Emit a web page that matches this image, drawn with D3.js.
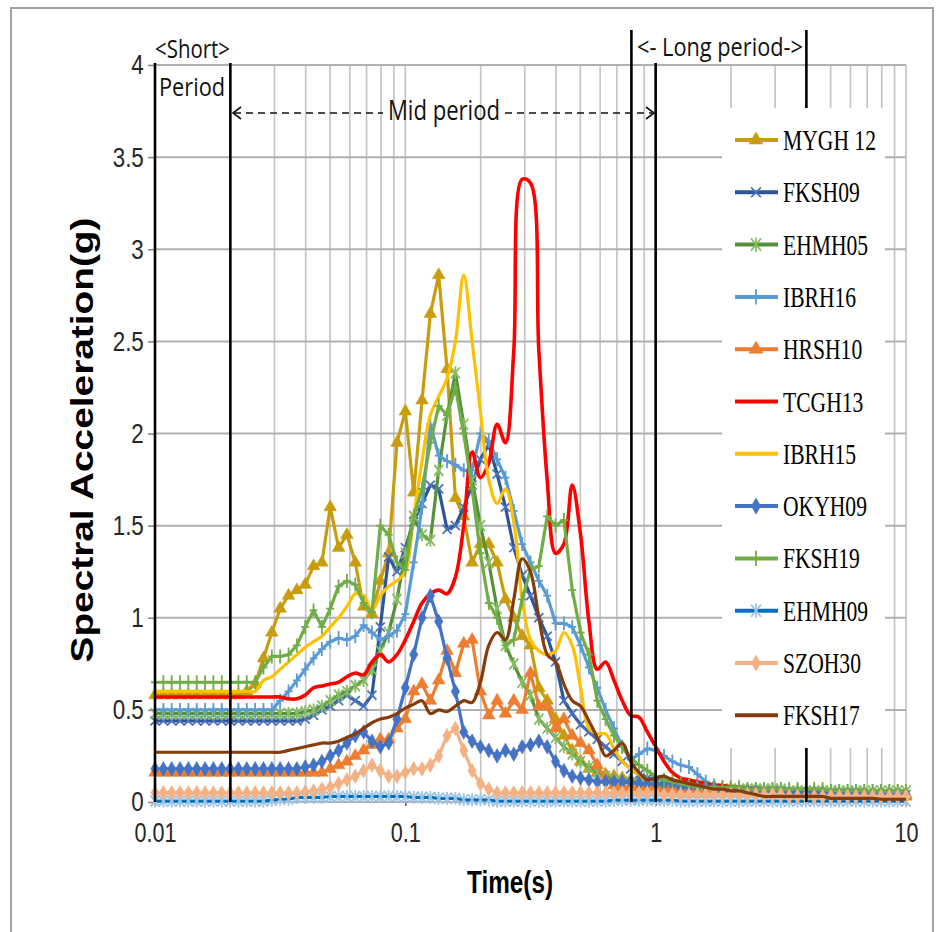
<!DOCTYPE html>
<html><head><meta charset="utf-8">
<script src="https://cdn.jsdelivr.net/npm/d3@7"></script>
<style>body{margin:0;background:#fff}svg{display:block}</style>
</head><body>
<svg id="chart" width="940" height="932"></svg>
<script>
// ---------- DATA ----------
const periods = [
0.01,0.0108,0.01166,0.01259,0.01359,0.01468,0.01585,0.01711,0.01848,0.01995,
0.02154,0.02326,0.02512,0.02712,0.02929,0.03162,0.03415,0.03687,0.03981,0.04299,
0.04642,0.05012,0.05412,0.05843,0.0631,0.06813,0.07356,0.07943,0.08577,0.09261,
0.1,0.108,0.1166,0.1259,0.1359,0.1468,0.1585,0.1711,0.1848,0.1995,
0.2154,0.2326,0.2512,0.2712,0.2929,0.3162,0.3415,0.3687,0.3981,0.4299,
0.4642,0.5012,0.5412,0.5843,0.631,0.6813,0.7356,0.7943,0.8577,0.9261,
1,1.08,1.166,1.259,1.359,1.468,1.585,1.711,1.848,1.995,
2.154,2.326,2.512,2.712,2.929,3.162,3.415,3.687,3.981,4.299,
4.642,5.012,5.412,5.843,6.31,6.813,7.356,7.943,8.577,9.261,
10];

const MYGH12 = [
0.58,0.58,0.58,0.58,0.58,0.58,0.58,0.58,0.58,0.58,
0.58,0.60,0.64,0.78,0.92,1.05,1.12,1.15,1.18,1.28,
1.30,1.60,1.38,1.45,1.30,1.06,1.02,1.20,1.35,1.95,
2.12,1.68,2.18,2.65,2.86,2.35,1.65,1.55,1.30,1.40,
1.40,1.30,1.10,1.00,0.90,0.85,0.62,0.55,0.45,0.36,
0.28,0.22,0.18,0.16,0.15,0.14,0.13,0.12,0.12,0.11,
0.11,0.10,0.10,0.10,0.09,0.09,0.08,0.08,0.07,0.07,
0.06,0.06,0.05,0.05,0.05,0.04,0.04,0.04,0.04,0.04,
0.04,0.03,0.03,0.03,0.03,0.03,0.03,0.03,0.03,0.03,
0.03];
const FKSH09 = [
0.44,0.44,0.44,0.44,0.44,0.44,0.44,0.44,0.44,0.44,
0.44,0.44,0.44,0.44,0.44,0.44,0.44,0.44,0.45,0.47,
0.50,0.52,0.55,0.58,0.55,0.52,0.58,0.95,1.33,1.25,
1.38,1.52,1.62,1.72,1.70,1.48,1.50,1.60,1.72,1.86,
1.94,1.78,1.60,1.38,1.23,1.12,1.00,0.90,0.76,0.55,
0.48,0.42,0.38,0.34,0.30,0.26,0.22,0.18,0.15,0.13,
0.12,0.11,0.10,0.09,0.09,0.08,0.07,0.07,0.07,0.07,
0.07,0.06,0.06,0.06,0.06,0.06,0.06,0.05,0.05,0.05,
0.05,0.05,0.05,0.05,0.05,0.04,0.04,0.04,0.04,0.04,
0.04];
const EHMH05 = [
0.48,0.48,0.48,0.48,0.48,0.48,0.48,0.48,0.48,0.48,
0.48,0.48,0.48,0.48,0.48,0.48,0.48,0.48,0.49,0.50,
0.52,0.55,0.58,0.60,0.63,0.66,0.72,0.82,0.92,1.10,
1.35,1.55,1.45,1.42,1.80,2.10,2.33,2.05,1.75,1.50,
1.30,1.05,0.85,0.75,0.65,0.58,0.45,0.40,0.35,0.30,
0.26,0.22,0.19,0.16,0.14,0.12,0.11,0.10,0.10,0.09,
0.09,0.08,0.08,0.08,0.08,0.08,0.08,0.07,0.07,0.07,
0.07,0.07,0.07,0.07,0.07,0.07,0.06,0.06,0.06,0.06,
0.06,0.06,0.06,0.06,0.06,0.06,0.06,0.06,0.06,0.06,
0.06];
const IBRH16 = [
0.50,0.50,0.50,0.50,0.50,0.50,0.50,0.50,0.50,0.50,
0.50,0.50,0.50,0.50,0.50,0.55,0.60,0.66,0.72,0.78,
0.83,0.87,0.89,0.88,0.90,0.96,0.92,0.88,0.90,0.93,
1.02,1.30,1.60,2.05,1.88,1.85,1.83,1.80,1.80,2.00,
1.96,1.86,1.76,1.58,1.40,1.30,1.20,1.12,0.97,0.97,
0.95,0.85,0.73,0.62,0.50,0.40,0.30,0.23,0.26,0.29,
0.28,0.25,0.22,0.20,0.19,0.15,0.11,0.09,0.08,0.07,
0.06,0.05,0.05,0.05,0.05,0.05,0.05,0.05,0.05,0.03,
0.03,0.03,0.03,0.03,0.03,0.03,0.03,0.03,0.03,0.03,
0.03];
const HRSH10 = [
0.16,0.16,0.16,0.16,0.16,0.16,0.16,0.16,0.16,0.16,
0.16,0.16,0.16,0.16,0.16,0.16,0.16,0.16,0.16,0.16,
0.16,0.18,0.20,0.22,0.25,0.28,0.31,0.34,0.34,0.40,
0.45,0.60,0.64,0.55,0.66,0.82,0.70,0.86,0.88,0.60,
0.47,0.55,0.48,0.55,0.50,0.70,0.52,0.52,0.40,0.45,
0.36,0.32,0.28,0.20,0.12,0.09,0.08,0.08,0.08,0.08,
0.08,0.07,0.07,0.07,0.07,0.07,0.07,0.06,0.06,0.06,
0.06,0.06,0.06,0.05,0.05,0.05,0.05,0.05,0.05,0.05,
0.05,0.04,0.04,0.04,0.04,0.04,0.04,0.04,0.04,0.04,
0.04];
const TCGH13 = [
0.57,0.57,0.57,0.57,0.57,0.57,0.57,0.57,0.57,0.57,
0.57,0.57,0.57,0.57,0.57,0.57,0.56,0.56,0.58,0.62,
0.63,0.64,0.65,0.68,0.70,0.69,0.76,0.80,0.76,0.80,
0.88,0.98,1.08,1.13,1.15,1.13,1.22,1.50,1.90,1.76,
1.84,2.05,1.95,2.45,3.38,3.36,2.45,1.75,1.35,1.40,
1.72,1.45,0.98,0.72,0.76,0.66,0.55,0.47,0.46,0.38,
0.30,0.22,0.16,0.13,0.12,0.11,0.10,0.09,0.09,0.08,
0.08,0.07,0.07,0.06,0.06,0.05,0.05,0.05,0.04,0.04,
0.04,0.04,0.03,0.03,0.03,0.03,0.03,0.02,0.02,0.02,
0.02];
const IBRH15 = [
0.60,0.60,0.60,0.60,0.60,0.60,0.60,0.60,0.60,0.60,
0.60,0.60,0.60,0.66,0.68,0.72,0.76,0.80,0.84,0.87,
0.90,0.95,1.00,1.06,1.13,1.12,1.04,1.12,1.17,1.20,
1.25,1.55,1.85,2.10,2.20,2.30,2.50,2.86,2.50,2.12,
1.75,1.62,1.70,1.52,1.10,0.88,0.82,0.80,0.82,0.92,
0.85,0.62,0.40,0.37,0.37,0.29,0.22,0.18,0.15,0.12,
0.11,0.10,0.09,0.09,0.08,0.08,0.07,0.07,0.06,0.06,
0.06,0.05,0.05,0.05,0.05,0.05,0.04,0.04,0.04,0.04,
0.04,0.04,0.04,0.03,0.03,0.03,0.03,0.03,0.03,0.03,
0.03];
const OKYH09 = [
0.18,0.18,0.18,0.18,0.18,0.18,0.18,0.18,0.18,0.18,
0.18,0.18,0.18,0.18,0.18,0.18,0.18,0.18,0.19,0.20,
0.22,0.25,0.28,0.32,0.36,0.38,0.33,0.30,0.32,0.45,
0.62,0.80,1.00,1.12,0.98,0.78,0.60,0.38,0.33,0.30,
0.28,0.25,0.28,0.26,0.30,0.31,0.33,0.30,0.22,0.17,
0.14,0.13,0.12,0.11,0.11,0.11,0.11,0.11,0.10,0.10,
0.10,0.10,0.10,0.08,0.08,0.08,0.08,0.08,0.06,0.06,
0.06,0.06,0.06,0.05,0.05,0.05,0.05,0.05,0.05,0.05,
0.05,0.04,0.04,0.04,0.04,0.04,0.04,0.04,0.04,0.04,
0.04];
const FKSH19 = [
0.65,0.65,0.65,0.65,0.65,0.65,0.65,0.65,0.65,0.65,
0.65,0.65,0.65,0.73,0.79,0.79,0.80,0.85,0.95,1.04,
0.95,1.05,1.17,1.20,1.18,1.08,1.03,1.50,1.45,1.30,
1.26,1.55,1.70,1.95,2.15,2.10,2.25,2.00,1.70,1.35,
1.08,1.00,0.85,0.88,1.10,1.26,1.28,1.55,1.50,1.53,
1.15,0.92,0.80,0.55,0.45,0.36,0.30,0.24,0.20,0.17,
0.14,0.12,0.11,0.10,0.09,0.08,0.08,0.08,0.08,0.08,
0.08,0.07,0.07,0.07,0.07,0.07,0.07,0.07,0.07,0.07,
0.07,0.06,0.06,0.06,0.06,0.06,0.06,0.06,0.06,0.06,
0.06];
const EHMH09 = [
0.005,0.005,0.005,0.005,0.005,0.005,0.005,0.005,0.005,0.005,
0.005,0.005,0.005,0.005,0.01,0.015,0.015,0.025,0.025,0.025,
0.025,0.03,0.03,0.03,0.03,0.03,0.03,0.03,0.03,0.03,
0.03,0.025,0.025,0.025,0.02,0.02,0.02,0.012,0.012,0.012,
0.012,0.005,0.005,0.005,0.005,0.005,0.005,0.005,0.005,0.005,
0.005,0.005,0.005,0.005,0.005,0.01,0.01,0.01,0.01,0.01,
0.01,0.01,0.01,0.005,0.005,0.005,0.005,0.005,0.005,0.005,
0.005,0.005,0.005,0.005,0.005,0.005,0.005,0.005,0.005,0.005,
0.005,0.005,0.005,0.005,0.005,0.005,0.005,0.005,0.005,0.005,
0.005];
const SZOH30 = [
0.05,0.05,0.05,0.05,0.05,0.05,0.05,0.05,0.05,0.05,
0.05,0.05,0.05,0.05,0.05,0.05,0.05,0.05,0.055,0.06,
0.07,0.08,0.10,0.12,0.14,0.17,0.20,0.17,0.14,0.14,
0.16,0.18,0.18,0.20,0.25,0.36,0.40,0.28,0.17,0.10,
0.07,0.05,0.05,0.05,0.05,0.05,0.05,0.05,0.05,0.05,
0.05,0.05,0.05,0.05,0.05,0.05,0.05,0.05,0.05,0.05,
0.05,0.04,0.04,0.04,0.04,0.04,0.04,0.04,0.04,0.04,
0.04,0.04,0.04,0.04,0.04,0.04,0.03,0.03,0.03,0.03,
0.03,0.03,0.03,0.03,0.03,0.03,0.03,0.03,0.03,0.03,
0.03];
const FKSH17 = [
0.27,0.27,0.27,0.27,0.27,0.27,0.27,0.27,0.27,0.27,
0.27,0.27,0.27,0.27,0.27,0.27,0.28,0.29,0.30,0.31,
0.32,0.32,0.33,0.35,0.37,0.40,0.43,0.45,0.46,0.48,
0.51,0.53,0.55,0.48,0.50,0.49,0.52,0.55,0.54,0.65,
0.85,0.92,0.88,1.10,1.32,1.25,1.00,0.80,0.76,0.64,
0.55,0.52,0.44,0.35,0.25,0.28,0.32,0.22,0.16,0.12,
0.13,0.14,0.12,0.11,0.10,0.09,0.08,0.07,0.07,0.06,
0.06,0.05,0.04,0.03,0.03,0.03,0.03,0.03,0.03,0.03,
0.03,0.02,0.02,0.02,0.02,0.02,0.02,0.015,0.015,0.015,
0.015];

const seriesNames = ["MYGH 12","FKSH09","EHMH05","IBRH16","HRSH10","TCGH13","IBRH15","OKYH09","FKSH19","EHMH09","SZOH30","FKSH17"];
const seriesValues = [MYGH12,FKSH09,EHMH05,IBRH16,HRSH10,TCGH13,IBRH15,OKYH09,FKSH19,EHMH09,SZOH30,FKSH17];
const yTicks = [0,0.5,1,1.5,2,2.5,3,3.5,4];
const xTickLabels = [0.01,0.1,1,10];
const boundaryPeriods = [0.01,0.02,0.8,1,4];

// ---------- STYLES ----------
const seriesStyle = {
  "MYGH 12": {line:"#C99C0E", mark:"#C99C0E", marker:"triangle", smooth:false},
  "FKSH09":  {line:"#2F5597", mark:"#4A72BE", marker:"x", smooth:false},
  "EHMH05":  {line:"#55913A", mark:"#86BC62", marker:"star", smooth:false},
  "IBRH16":  {line:"#5B9BD5", mark:"#5B9BD5", marker:"plus", smooth:false},
  "HRSH10":  {line:"#ED7D31", mark:"#ED7D31", marker:"triangle", smooth:false},
  "TCGH13":  {line:"#FF0000", mark:null, marker:null, smooth:true},
  "IBRH15":  {line:"#FFC000", mark:null, marker:null, smooth:true},
  "OKYH09":  {line:"#4472C4", mark:"#4472C4", marker:"diamond", smooth:false},
  "FKSH19":  {line:"#70AD47", mark:"#70AD47", marker:"plus", smooth:false},
  "EHMH09":  {line:"#0070C0", mark:"#9DC3E6", marker:"star", smooth:false},
  "SZOH30":  {line:"#F4B183", mark:"#F4B183", marker:"diamond", smooth:false},
  "FKSH17":  {line:"#843C0C", mark:null, marker:null, smooth:true}
};

function markerPath(type){
  switch(type){
    case "triangle": return d3.symbol(d3.symbolTriangle, 70)();
    case "diamond": return d3.symbol(d3.symbolDiamond, 62)();
    case "x": return "M-4.5,-4.5L4.5,4.5M-4.5,4.5L4.5,-4.5";
    case "plus": return "M0,-7V7M-4,0H4";
    case "star": return "M-4.5,-5.5L4.5,5.5M-4.5,5.5L4.5,-5.5M0,-6.5V6.5";
  }
  return "";
}
const filledMarkers = new Set(["triangle","diamond"]);

// ---------- CHART ----------
const svg = d3.select("#chart");
const x = d3.scaleLog().domain([0.01, 10]).range([155, 906]);
const y = d3.scaleLinear().domain([0, 4]).range([802, 65]);

// frame
svg.append("path").attr("d","M11,932V8H933V932").attr("fill","none")
  .attr("stroke","#a3a3a3").attr("stroke-width",2);

// grid
const grid = svg.append("g");
grid.selectAll("line.v").data(x.ticks()).join("line").attr("class","v")
  .attr("x1",d=>x(d)).attr("x2",d=>x(d)).attr("y1",y(4)).attr("y2",y(0))
  .attr("stroke","#c6c6c6").attr("stroke-width",1.7);
grid.selectAll("line.h").data(yTicks).join("line").attr("class","h")
  .attr("x1",x(0.01)).attr("x2",x(10)).attr("y1",d=>y(d)).attr("y2",d=>y(d))
  .attr("stroke","#b0b0b0").attr("stroke-width",2);

// axes
const gy = svg.append("g").attr("transform",`translate(${x(0.01)},0)`)
  .call(d3.axisLeft(y).tickValues(yTicks).tickSize(7).tickPadding(7).tickFormat(d=>String(d)));
gy.select(".domain").remove();
gy.selectAll(".tick line").attr("stroke","#8a8a8a").attr("stroke-width",1.6);
gy.selectAll(".tick text").attr("font-family","'Liberation Sans', Arial, sans-serif")
  .attr("font-size",28).attr("fill","#262626").attr("transform","scale(0.8,1)");

const gx = svg.append("g").attr("transform",`translate(0,${y(0)})`)
  .call(d3.axisBottom(x).tickValues(xTickLabels).tickSize(4).tickPadding(17).tickFormat(d=>String(d)));
gx.select(".domain").remove();
gx.selectAll(".tick line").attr("stroke","#555").attr("stroke-width",1.5);
gx.selectAll(".tick text").attr("font-family","'Liberation Sans', Arial, sans-serif")
  .attr("font-size",27).attr("fill","#262626").attr("transform","scale(0.8,1)");

// series
const dataG = svg.append("g");
seriesNames.forEach((name, si) => {
  const st = seriesStyle[name];
  const vals = seriesValues[si];
  const pts = periods.map((p,i)=>[p, vals[i]]);
  const line = d3.line().x(d=>x(d[0])).y(d=>y(d[1]))
     .curve(st.smooth ? d3.curveCatmullRom.alpha(0.5) : d3.curveLinear);
  const g = dataG.append("g");
  g.append("path").attr("d", line(pts)).attr("fill","none")
    .attr("stroke", st.line).attr("stroke-width", name==="TCGH13"?3.6:3.2)
    .attr("stroke-linejoin","round");
  if (st.marker){
    const filled = filledMarkers.has(st.marker);
    g.selectAll("path.m").data(pts).join("path").attr("class","m")
      .attr("transform", d=>`translate(${x(d[0])},${y(d[1])})`)
      .attr("d", markerPath(st.marker))
      .attr("fill", filled ? st.mark : "none")
      .attr("stroke", st.mark).attr("stroke-width", filled ? 0.5 : 1.8);
  }
});

// boundary lines
const tops = {0.01:63, 0.02:63, 0.8:30, 1:63, 4:30};
svg.append("g").selectAll("line").data(boundaryPeriods).join("line")
  .attr("x1",d=>x(d)).attr("x2",d=>x(d)).attr("y1",d=>tops[d]).attr("y2",y(0))
  .attr("stroke","#000").attr("stroke-width",2.6);

// annotations
const ann = svg.append("g").attr("font-family","'Open Sans', 'Liberation Sans', sans-serif").attr("fill","#111");
ann.append("text").attr("x",155).attr("y",58).attr("font-size",25).attr("textLength",75).attr("lengthAdjust","spacingAndGlyphs").text("<Short>");
ann.append("text").attr("x",159).attr("y",96).attr("font-size",26).attr("textLength",66).attr("lengthAdjust","spacingAndGlyphs").text("Period");
ann.append("text").attr("x",637).attr("y",56).attr("font-size",26).attr("textLength",166).attr("lengthAdjust","spacingAndGlyphs").text("<- Long period->");
ann.append("text").attr("x",388).attr("y",120).attr("font-size",27).attr("textLength",112).attr("lengthAdjust","spacingAndGlyphs").text("Mid period");
ann.append("line").attr("x1",234).attr("x2",383).attr("y1",113).attr("y2",113).attr("stroke","#111").attr("stroke-width",1.6).attr("stroke-dasharray","7,5");
ann.append("line").attr("x1",505).attr("x2",652).attr("y1",113).attr("y2",113).attr("stroke","#111").attr("stroke-width",1.6).attr("stroke-dasharray","7,5");
ann.append("path").attr("d","M241,107L233,113L241,119").attr("fill","none").attr("stroke","#111").attr("stroke-width",1.6);
ann.append("path").attr("d","M646,107L654,113L646,119").attr("fill","none").attr("stroke","#111").attr("stroke-width",1.6);

// legend
const leg = svg.append("g");
leg.append("rect").attr("x",722).attr("y",108).attr("width",163).attr("height",640).attr("fill","#fff");
seriesNames.forEach((name, k) => {
  const st = seriesStyle[name];
  const cy = 140 + k*52.3;
  leg.append("line").attr("x1",735).attr("x2",778).attr("y1",cy).attr("y2",cy)
    .attr("stroke",st.line).attr("stroke-width",4);
  if (st.marker){
    const filled = filledMarkers.has(st.marker);
    leg.append("path").attr("transform",`translate(756,${cy}) scale(1.1)`)
      .attr("d", markerPath(st.marker))
      .attr("fill", filled ? st.mark : "none")
      .attr("stroke", st.mark).attr("stroke-width", filled ? 0.5 : 1.6);
  }
  leg.append("text").attr("transform",`translate(783,${cy+10}) scale(0.72,1)`)
    .attr("font-family","'Liberation Serif', 'Times New Roman', serif")
    .attr("font-size",30).attr("fill","#000").text(name);
});

// axis titles
svg.append("text").attr("transform","translate(93,440) rotate(-90)")
  .attr("text-anchor","middle").attr("font-family","'Liberation Sans', Arial, sans-serif")
  .attr("font-weight","bold").attr("font-size",32).attr("fill","#000")
  .attr("textLength",445).attr("lengthAdjust","spacingAndGlyphs")
  .text("Spectral Acceleration(g)");
svg.append("text").attr("transform","translate(510,893) scale(0.76,1)")
  .attr("text-anchor","middle").attr("font-family","'Liberation Sans', Arial, sans-serif")
  .attr("font-weight","bold").attr("font-size",32).attr("fill","#000")
  .text("Time(s)");
</script>
</body></html>
